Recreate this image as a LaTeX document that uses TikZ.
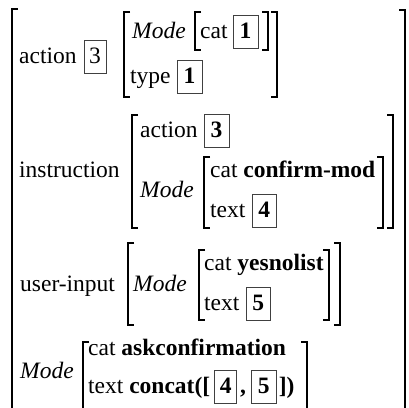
\documentclass[tikz,border=0pt]{standalone}
\usepackage{fontspec}
\setmainfont{Liberation Serif}
\usepackage{tikz}
\usetikzlibrary{positioning}
\newcommand{\avmsize}{\fontsize{23.5bp}{28bp}\selectfont}
% brackets of a feature structure
\newcommand{\avmopen}[3]{\draw[brk] ({#1+6},#2) -- (#1,#2) -- (#1,#3) -- ({#1+6},#3);}
\newcommand{\avmclose}[3]{\draw[brk] ({#1-6},#2) -- (#1,#2) -- (#1,#3) -- ({#1-6},#3);}
\tikzset{
  feat/.style={anchor=base west, inner sep=0pt, font=\avmsize},
  typ/.style={feat, font=\avmsize\itshape},
  tagbox/.style={anchor=base west, draw=black!75, line width=0.7bp, font=\avmsize\bfseries,
    inner xsep=6.5bp, inner ysep=4bp, text height=19bp, text depth=6bp},
  brk/.style={line width=1.3bp}
}
\begin{document}
\begin{tikzpicture}[x=1bp,y=-1bp]
            \useasboundingbox (0,0) rectangle (409,408);
            % outer brackets
            \avmopen{12}{9}{420}
            \avmclose{405}{10}{420}
            % action
            \node[feat] (act1) at (19,63) {action};
            \node[tagbox, font=\avmsize, inner xsep=5bp] (t3a) at ([xshift=7bp]act1.base east) {3};
            \avmopen{124}{12}{97}
            \node[typ] (mode1) at (132,38) {Mode};
            \avmopen{195}{12}{50}
            \node[feat] (cat1) at (200,38) {cat};
            \node[tagbox] (t1a) at ([xshift=5bp]cat1.base east) {1};
            \avmclose{268}{12}{50}
            \node[feat] (type1) at (130,83) {type};
            \node[tagbox] (t1b) at ([xshift=6bp]type1.base east) {1};
            \avmclose{277}{12}{97}
            % instruction
            \node[feat] (instr) at (19,177) {instruction};
            \avmopen{132}{115}{228}
            \node[feat] (act2) at (140,137) {action};
            \node[tagbox] (t3b) at ([xshift=6bp]act2.base east) {3};
            \node[typ] (mode2) at (140,197) {Mode};
            \avmopen{204}{157}{228}
            \node[feat] (cat2) at (210,177) {cat \textbf{confirm-mod}};
            \node[feat] (text2) at (210,217) {text};
            \node[tagbox] (t4a) at ([xshift=6bp]text2.base east) {4};
            \avmclose{383}{157}{228}
            \avmclose{393}{115}{228}
            % user-input
            \node[feat] (uin) at (20,291) {user-input};
            \avmopen{128}{243}{325}
            \node[typ] (mode3) at (133,291) {Mode};
            \avmopen{199}{250}{320}
            \node[feat] (cat3) at (204,270) {cat \textbf{yesnolist}};
            \node[feat] (text3) at (204,310) {text};
            \node[tagbox] (t5a) at ([xshift=6bp]text3.base east) {5};
            \avmclose{329}{250}{320}
            \avmclose{340}{243}{325}
            % Mode
            \node[typ] (mode4) at (20,378) {Mode};
            \avmopen{83}{342}{410}
            \node[feat] (cat4) at (88,355) {cat \textbf{askconfirmation}};
            \node[feat] (text4) at (88,393) {text \textbf{concat([}};
            \node[tagbox, inner xsep=5bp] (t4b) at ([xshift=4bp]text4.base east) {4};
            \node[feat] (comma) at ([xshift=3bp]t4b.base east) {\textbf{,}};
            \node[tagbox] (t5b) at ([xshift=5bp]comma.base east) {5};
            \node[feat] (rpar) at ([xshift=2bp]t5b.base east) {\textbf{])}};
            \avmclose{307}{342}{410}
\end{tikzpicture}
\end{document}
